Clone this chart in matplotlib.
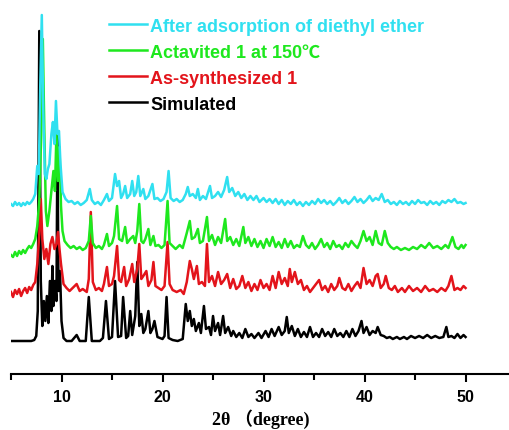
import matplotlib
matplotlib.use("Agg")
import matplotlib.pyplot as plt

# 2theta (degree) and intensity (a.u.)
sim_x = [5.0, 6.0, 7.0, 7.3, 7.5, 7.65, 7.8, 7.95, 8.1, 8.25, 8.4, 8.55, 8.7, 8.85, 9.0, 9.1, 9.2, 9.35, 9.5, 9.6,
         9.7, 9.85, 10.0, 10.2, 10.5, 11.0, 11.5, 11.8, 12.4, 12.7, 13.0, 13.8, 14.1, 14.4, 14.7, 15.0, 15.3, 15.6,
         15.9, 16.1, 16.4, 16.6, 16.8, 17.0, 17.3, 17.5, 17.7, 17.9, 18.1, 18.3, 18.6, 18.8, 19.0, 19.2, 19.5, 20.0,
         20.2, 20.4, 20.6, 21.0, 21.5, 22.0, 22.3, 22.5, 22.7, 22.9, 23.1, 23.3, 23.6, 23.8, 24.1, 24.3, 24.6, 24.8,
         25.0, 25.2, 25.5, 25.7, 26.0, 26.2, 26.5, 26.8, 27.0, 27.3, 27.6, 27.9, 28.2, 28.5, 28.8, 29.1, 29.5, 29.8,
         30.2, 30.5, 30.8, 31.1, 31.5, 31.8, 32.1, 32.3, 32.5, 32.8, 33.1, 33.4, 33.7, 34.0, 34.3, 34.6, 34.9, 35.2,
         35.5, 35.8, 36.1, 36.4, 36.7, 37.0, 37.3, 37.6, 37.9, 38.2, 38.5, 38.8, 39.1, 39.4, 39.7, 39.9, 40.2, 40.5,
         40.8, 41.1, 41.3, 41.6, 41.9, 42.2, 42.5, 42.8, 43.2, 43.5, 43.9, 44.2, 44.6, 45.0, 45.4, 45.8, 46.2, 46.6,
         47.0, 47.4, 47.8, 48.1, 48.3, 48.6, 48.9, 49.2, 49.5, 49.8, 50.0]
sim_y = [0, 0, 0, 1, 5, 30, 310, 60, 15, 40, 20, 45, 18, 60, 30, 75, 35, 60, 40, 210,
         50, 70, 20, 3, 0, 0, 6, 0, 0, 44, 0, 0, 3, 40, 2, 4, 60, 4,
         5, 44, 3, 5, 30, 6, 25, 79, 15, 27, 8, 12, 30, 8, 12, 20, 4, 2,
         5, 44, 3, 1, 0, 2, 37, 20, 30, 15, 22, 10, 18, 8, 35, 12, 14, 6,
         25, 10, 18, 6, 25, 8, 14, 5, 10, 4, 8, 3, 12, 4, 7, 3, 8, 3,
         10, 4, 12, 5, 14, 6, 10, 24, 8, 15, 5, 12, 4, 9, 4, 14, 4, 8,
         4, 12, 5, 9, 4, 12, 5, 8, 4, 10, 4, 12, 5, 10, 20, 8, 14, 6,
         10, 8, 14, 6, 5, 3, 4, 2, 4, 2, 4, 2, 5, 3, 5, 3, 6, 3,
         5, 3, 4, 14, 4, 5, 3, 7, 3, 6, 4]

as_x = [5.0, 5.2, 5.4, 5.6, 5.8, 6.0, 6.2, 6.4, 6.6, 6.8, 7.0, 7.2, 7.4, 7.6, 7.8, 7.95, 8.1, 8.3, 8.5, 8.7,
        8.9, 9.1, 9.3, 9.5, 9.65, 9.8, 9.95, 10.2, 10.5, 10.8, 11.1, 11.5, 11.8, 12.1, 12.5, 12.7, 12.9, 13.1,
        13.4, 13.7, 14.0, 14.2, 14.5, 14.7, 15.0, 15.2, 15.5, 15.7, 15.9, 16.2, 16.4, 16.7, 17.0, 17.2, 17.5,
        17.7, 17.9, 18.1, 18.4, 18.6, 18.9, 19.1, 19.3, 19.6, 19.9, 20.2, 20.5, 20.7, 21.0, 21.4, 21.8, 22.1,
        22.4, 22.7, 22.9, 23.1, 23.4, 23.6, 23.9, 24.2, 24.4, 24.6, 24.9, 25.2, 25.5, 25.8, 26.1, 26.4, 26.7,
        27.0, 27.3, 27.6, 27.9, 28.2, 28.5, 28.8, 29.1, 29.4, 29.7, 30.0, 30.3, 30.6, 30.9, 31.2, 31.5, 31.8,
        32.1, 32.4, 32.6, 32.8, 33.1, 33.4, 33.7, 34.0, 34.3, 34.6, 34.9, 35.2, 35.5, 35.8, 36.1, 36.4, 36.7,
        37.0, 37.3, 37.5, 37.8, 38.1, 38.4, 38.7, 39.0, 39.3, 39.6, 39.9, 40.2, 40.5, 40.8, 41.1, 41.3, 41.6,
        41.9, 42.1, 42.4, 42.7, 43.0, 43.3, 43.7, 44.0, 44.4, 44.8, 45.2, 45.6, 46.0, 46.4, 46.8, 47.2, 47.6,
        48.0, 48.3, 48.6, 48.9, 49.2, 49.5, 49.8, 50.0]
as_y = [2, -3, 4, 0, 5, -2, 3, 6, 1, 7, 4, 9, 12, 30, 60, 95, 55, 35, 45, 30,
        50, 57, 45, 50, 62, 45, 30, 10, 6, 3, 6, 10, 3, 5, 2, 15, 82, 12,
        4, 6, 3, 10, 27, 8, 10, 18, 48, 14, 12, 27, 8, 15, 30, 12, 25,
        50, 15, 18, 23, 8, 14, 32, 8, 6, 4, 8, 52, 10, 4, 2, 4, 0,
        12, 33, 25, 15, 28, 10, 12, 8, 50, 12, 18, 8, 22, 10, 14, 20, 6,
        15, 5, 8, 18, 6, 12, 3, 10, 4, 14, 6, 10, 4, 18, 6, 22, 10,
        16, 8, 25, 12, 22, 10, 14, 4, 8, 2, 6, 10, 14, 4, 8, 2, 10,
        4, 8, 16, 6, 4, 10, 3, 8, 12, 6, 26, 10, 14, 8, 18, 20, 6,
        10, 18, 6, 4, 8, 2, 6, 2, 8, 3, 6, 2, 8, 3, 5, 2, 6,
        3, 8, 18, 4, 6, 4, 8, 6]

act_x = [5.0, 5.2, 5.4, 5.6, 5.8, 6.0, 6.2, 6.4, 6.6, 6.8, 7.0, 7.2, 7.4, 7.6, 7.8, 8.0, 8.15, 8.3, 8.45, 8.6,
         8.8, 9.0, 9.2, 9.35, 9.5, 9.65, 9.8, 9.95, 10.1, 10.3, 10.6, 10.9, 11.2, 11.5, 11.8, 12.1, 12.4, 12.7,
         12.9, 13.1, 13.4, 13.7, 14.0, 14.2, 14.5, 14.7, 15.0, 15.2, 15.5, 15.7, 16.0, 16.3, 16.5, 16.8, 17.1,
         17.3, 17.5, 17.7, 17.9, 18.1, 18.3, 18.6, 18.8, 19.1, 19.3, 19.6, 19.9, 20.2, 20.5, 20.7, 21.0, 21.3,
         21.7, 22.0, 22.4, 22.7, 22.9, 23.2, 23.5, 23.7, 24.0, 24.4, 24.6, 24.9, 25.2, 25.5, 25.8, 26.2, 26.4,
         26.7, 27.0, 27.3, 27.6, 28.0, 28.2, 28.5, 28.8, 29.1, 29.4, 29.7, 30.0, 30.3, 30.6, 30.9, 31.2, 31.5,
         31.8, 32.1, 32.4, 32.7, 33.0, 33.3, 33.6, 33.9, 34.2, 34.5, 34.8, 35.1, 35.4, 35.7, 36.0, 36.3, 36.6,
         36.9, 37.2, 37.5, 37.8, 38.1, 38.4, 38.7, 39.0, 39.3, 39.6, 39.9, 40.2, 40.5, 40.8, 41.1, 41.4, 41.7,
         42.0, 42.3, 42.6, 42.9, 43.2, 43.6, 44.0, 44.4, 44.8, 45.2, 45.6, 46.0, 46.4, 46.8, 47.2, 47.6, 48.0,
         48.3, 48.7, 49.0, 49.3, 49.6, 49.8, 50.0]
act_y = [-4, -6, -1, -5, 0, -3, 1, -2, 2, 5, 3, 7, 12, 25, 50, 120, 212, 120, 40, 25,
         40, 60, 80, 60, 119, 70, 104, 45, 20, 10, 6, 3, 5, 2, 4, 1, 3, 10,
         35, 8, 3, 5, 2, 6, 17, 5, 8, 15, 45, 12, 10, 24, 8, 12, 15,
         8, 20, 47, 10, 8, 12, 22, 6, 15, 5, 6, 3, 6, 50, 8, 5, 2,
         6, 3, 18, 30, 12, 14, 22, 8, 10, 34, 10, 16, 6, 14, 8, 32, 10,
         14, 6, 12, 5, 24, 8, 14, 5, 12, 4, 10, 3, 12, 5, 14, 4, 9,
         3, 12, 4, 10, 3, 6, 4, 15, 6, 3, 8, 2, 6, 12, 4, 8, 2,
         10, 4, 6, 2, 8, 4, 10, 6, 3, 10, 20, 10, 14, 6, 20, 8, 6,
         20, 8, 4, 2, 4, 1, 3, 1, 4, 2, 6, 3, 8, 3, 5, 2, 6,
         3, 14, 4, 2, 6, 3, 6]

ads_x = [5.0, 5.2, 5.4, 5.6, 5.8, 6.0, 6.2, 6.4, 6.6, 6.8, 7.0, 7.2, 7.4, 7.6, 7.75, 7.9, 8.05, 8.2, 8.35, 8.5,
         8.65, 8.8, 9.0, 9.15, 9.3, 9.45, 9.6, 9.75, 9.9, 10.1, 10.4, 10.7, 11.0, 11.3, 11.6, 11.9, 12.2, 12.5,
         12.8, 13.0, 13.3, 13.6, 13.9, 14.2, 14.5, 14.7, 15.0, 15.3, 15.5, 15.7, 15.9, 16.1, 16.3, 16.5, 16.8,
         17.0, 17.2, 17.4, 17.6, 17.8, 18.1, 18.3, 18.6, 19.0, 19.2, 19.5, 19.8, 20.1, 20.4, 20.6, 20.8, 21.1,
         21.4, 21.7, 22.0, 22.3, 22.5, 22.7, 23.0, 23.3, 23.5, 23.7, 24.0, 24.3, 24.7, 24.9, 25.2, 25.5, 25.8,
         26.1, 26.4, 26.6, 26.9, 27.2, 27.5, 27.8, 28.1, 28.4, 28.7, 29.0, 29.3, 29.6, 30.0, 30.3, 30.6, 30.9,
         31.2, 31.5, 31.8, 32.1, 32.4, 32.7, 33.0, 33.3, 33.6, 33.9, 34.2, 34.5, 34.8, 35.1, 35.4, 35.7, 36.0,
         36.3, 36.6, 36.9, 37.2, 37.5, 37.8, 38.1, 38.4, 38.7, 39.0, 39.3, 39.6, 39.9, 40.2, 40.5, 40.8, 41.1,
         41.4, 41.7, 42.0, 42.3, 42.6, 42.9, 43.2, 43.5, 43.8, 44.1, 44.4, 44.7, 45.0, 45.3, 45.6, 45.9, 46.2,
         46.5, 46.8, 47.1, 47.4, 47.7, 48.0, 48.3, 48.6, 48.9, 49.2, 49.5, 49.8, 50.0]
ads_y = [0, -2, 2, -1, 1, -2, 1, -1, 2, 0, 2, 5, 10, 38, 30, 120, 189, 90, 30, 25,
         35, 40, 70, 82, 60, 103, 70, 73, 40, 12, 5, 2, 3, 0, 2, -1, 1, 4,
         15, 4, 0, 2, -1, 4, 10, 3, 6, 30, 18, 23, 6, 10, 18, 6, 10,
         23, 8, 12, 28, 8, 15, 5, 8, 20, 5, 6, 3, 5, 12, 33, 6, 3,
         5, 2, 4, 10, 17, 8, 10, 6, 15, 4, 8, 5, 18, 6, 8, 12, 7,
         14, 27, 12, 16, 8, 12, 6, 10, 4, 8, 4, 8, 2, 6, 2, 5, 1,
         5, 0, 4, -1, 3, 0, 4, -1, 2, -2, 2, -1, 3, 0, 5, 1, 4,
         0, 3, -1, 2, 6, 1, 4, 0, 3, 7, 2, 5, 1, 4, 8, 3, 6,
         4, 10, 2, 4, 0, 2, -1, 3, 0, 2, -1, 3, 0, 4, 1, 2, -1,
         3, 0, 2, -1, 3, 1, 4, 2, 5, 1, 2, 0, 1]

labels = ["Simulated", "As-synthesized 1", "Actavited 1 at 150\u2103", "After adsorption of diethyl ether"]
colors = ["black", "#e3141b", "#1ee81e", "#30e0f0"]

fig = plt.figure(figsize=(5.1, 4.31), dpi=100)
ax = fig.add_axes([11 / 510, 56 / 431, 499 / 510, 375 / 431])

series = [(sim_x, sim_y), (as_x, as_y), (act_x, act_y), (ads_x, ads_y)]
offsets = [33, 80, 123, 170]
handles = []
for (x, y), off, c, lab in zip(series, offsets, colors, labels):
    h, = ax.plot(x, [v + off for v in y], color=c, lw=1.8, label=lab)
    handles.append(h)

ax.set_xlim(5, 54.4)
ax.set_ylim(0, 375)
for s in ["left", "right", "top"]:
    ax.spines[s].set_visible(False)
ax.spines["bottom"].set_linewidth(1.5)
ax.set_yticks([])
ax.set_xticks([10, 20, 30, 40, 50])
ax.set_xticks([5, 15, 25, 35, 45], minor=True)
ax.tick_params(axis="x", which="major", direction="out", length=6, width=1.5, pad=5)
ax.tick_params(axis="x", which="minor", direction="out", length=4, width=1.5)
for t in ax.get_xticklabels():
    t.set_fontfamily(["Liberation Sans", "DejaVu Sans"])
    t.set_fontweight("bold")
    t.set_fontsize(11.5)

ax.set_xlabel("2\u03b8 \uff08degree)", family=["Liberation Serif", "Noto Sans CJK SC"],
              fontweight="bold", fontsize=13, labelpad=3)

leg = ax.legend(handles=handles[::-1], loc="upper left", bbox_to_anchor=(0.172, 0.984),
                frameon=False, handlelength=2.1, handletextpad=0.15, labelspacing=0.5,
                prop={"family": ["Liberation Sans", "Noto Sans CJK SC"], "weight": "bold", "size": 13},
                labelcolor="linecolor", borderaxespad=0.3)

fig.savefig("out.png", dpi=100)
